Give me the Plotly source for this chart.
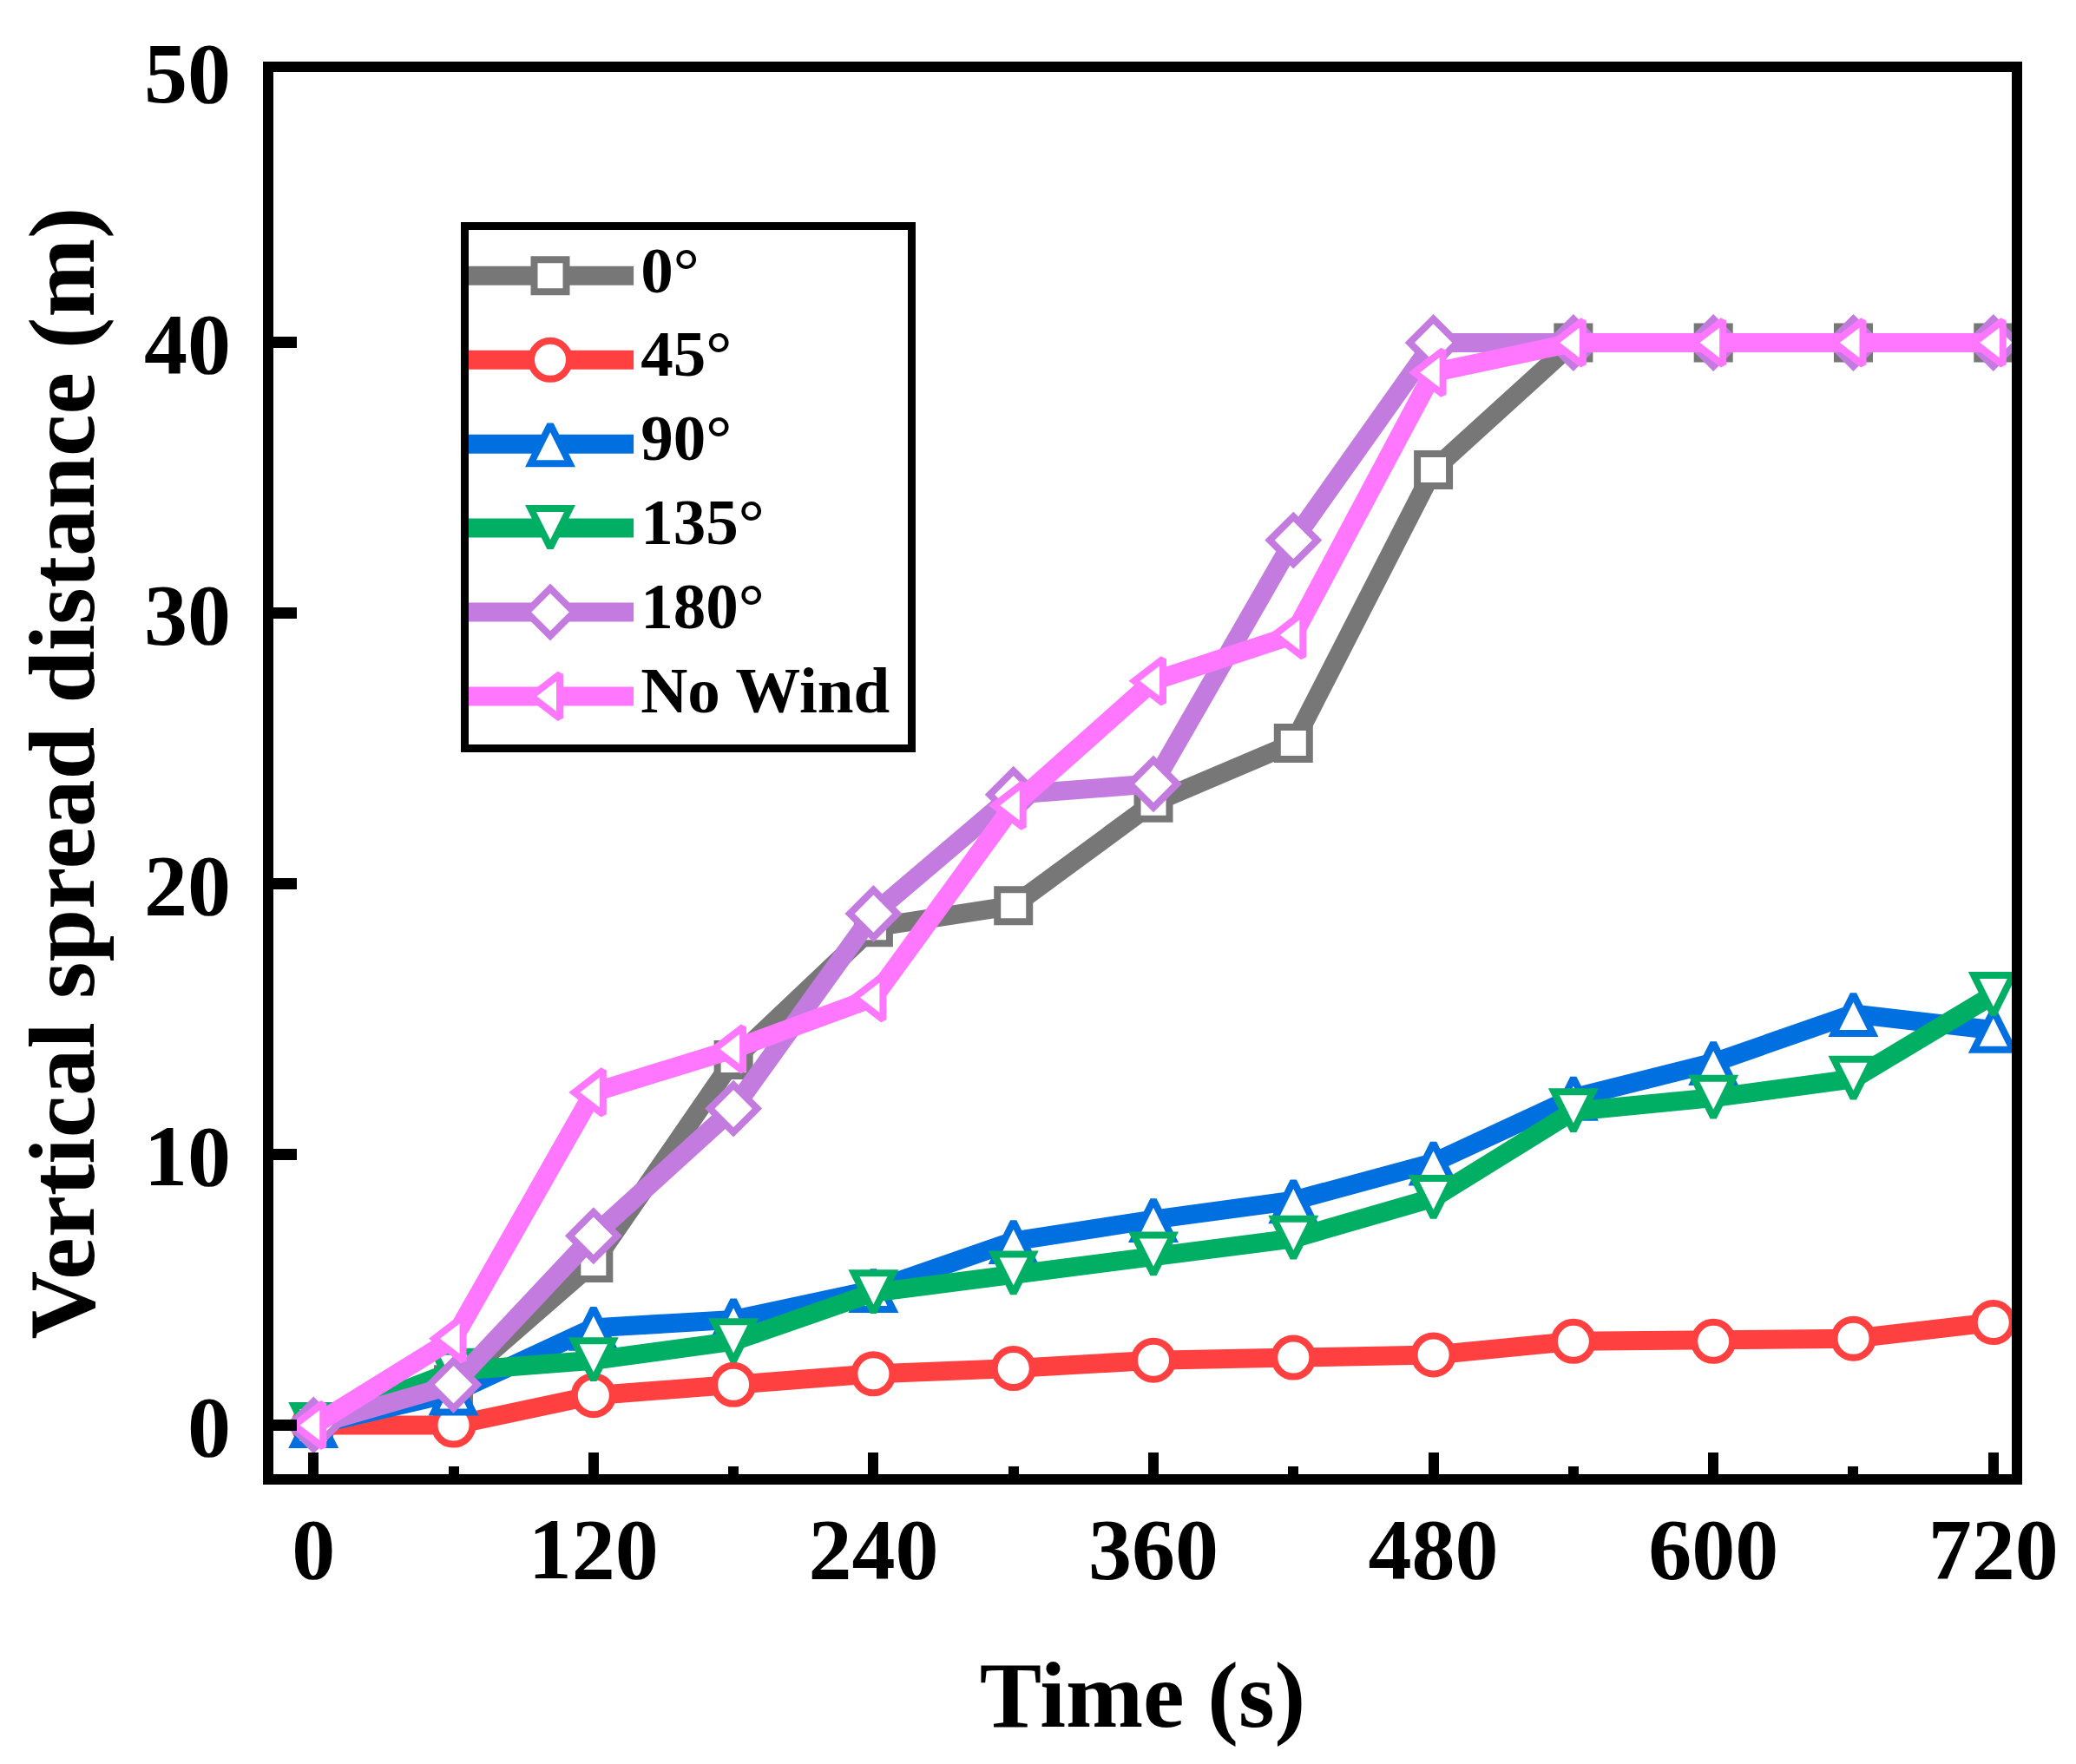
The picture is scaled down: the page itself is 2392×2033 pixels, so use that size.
import plotly.graph_objects as go

# ---------------- data ----------------
time_s = [0, 60, 120, 180, 240, 300, 360, 420, 480, 540, 600, 660, 720]
series_names = ["0°", "45°", "90°", "135°", "180°", "No Wind"]
d_0 = [0, 1.5, 6.0, 13.5, 18.4, 19.2, 23.0, 25.2, 35.3, 40, 40, 40, 40]
d_45 = [0, 0, 1.1, 1.5, 1.9, 2.1, 2.4, 2.5, 2.6, 3.1, 3.1, 3.2, 3.8]
d_90 = [0, 1.2, 3.6, 3.9, 5.0, 6.8, 7.6, 8.3, 9.7, 12.1, 13.4, 15.2, 14.6]
d_135 = [0, 2.0, 2.4, 3.1, 4.9, 5.6, 6.3, 6.9, 8.4, 11.6, 12.1, 12.8, 15.9]
d_180 = [0, 1.5, 7.0, 11.7, 18.9, 23.3, 23.7, 32.7, 40.0, 40, 40, 40, 40]
d_nowind = [0, 3.2, 12.3, 13.9, 15.8, 22.9, 27.5, 29.2, 38.9, 40, 40, 40, 40]
x_tickvals = [0, 120, 240, 360, 480, 600, 720]
y_tickvals = [0, 10, 20, 30, 40, 50]

# ---------------- styles ----------------
series_values = [d_0, d_45, d_90, d_135, d_180, d_nowind]
colors = ["#777777", "#FF4040", "#0070E0", "#00AE64", "#C47BE0", "#FF77FF"]
# up / down triangles: isosceles "arrow" symbol re-centred with standoff
symbols = ["square", "circle", "arrow-down", "arrow-down", "diamond", "triangle-left"]
angles = [0, 0, 180, 0, 0, 0]
centre_shift = [False, False, True, True, False, False]
msizes = [37, 44, 45, 45, 42, 44]
FONT = "Liberation Serif, Times New Roman, serif"
LINE_W = 22
MLINE_W = 8


def marker_style(i):
    m = dict(symbol=symbols[i], size=msizes[i], color="white", angle=angles[i],
             line=dict(color=colors[i], width=MLINE_W))
    if centre_shift[i]:
        m["standoff"] = msizes[i] / 2
    return m


fig = go.Figure()

for i, (name, vals) in enumerate(zip(series_names, series_values)):
    fig.add_trace(go.Scatter(
        x=time_s, y=vals, name=name, mode="lines+markers",
        line=dict(color=colors[i], width=LINE_W, backoff=0),
        marker=marker_style(i),
        xaxis="x", yaxis="y", showlegend=False, cliponaxis=False,
    ))

# ---------------- custom legend in an inset axes ----------------
LEG_LINE_X = [0.0, 0.376]
LEG_MARK_X = 0.186
LEG_TEXT_X = 0.392
for i, name in enumerate(series_names):
    fig.add_trace(go.Scatter(
        x=LEG_LINE_X, y=[i, i], mode="lines",
        line=dict(color=colors[i], width=LINE_W),
        xaxis="x2", yaxis="y2", showlegend=False, hoverinfo="skip",
    ))
    fig.add_trace(go.Scatter(
        x=[LEG_MARK_X], y=[i], mode="markers",
        marker=marker_style(i),
        xaxis="x2", yaxis="y2", showlegend=False, hoverinfo="skip",
    ))
fig.add_trace(go.Scatter(
    x=[LEG_TEXT_X] * len(series_names), y=list(range(len(series_names))),
    mode="text", text=series_names, textposition="middle right",
    textfont=dict(family=FONT, size=75, color="black", weight="bold"),
    xaxis="x2", yaxis="y2", showlegend=False, hoverinfo="skip", cliponaxis=False,
))

axis_common = dict(showgrid=False, zeroline=False, showline=True, linecolor="black",
                   mirror=True)

# page body has an 8px default margin: figure is sized so it fits the window
fig.update_layout(
    width=2376, height=2017,
    margin=dict(l=307, r=61, t=75, b=326),
    paper_bgcolor="white", plot_bgcolor="white",
    showlegend=False,
    xaxis=dict(
        **axis_common, linewidth=12,
        range=[-17.2, 727.9], tickvals=x_tickvals,
        ticks="inside", ticklen=25, tickwidth=12, tickcolor="black",
        minor=dict(ticks="inside", ticklen=9, tickwidth=12, tickcolor="black",
                   dtick=60, tick0=0, showgrid=False),
        tickfont=dict(family=FONT, size=100, color="black", weight="bold"),
        ticklabelstandoff=-12,
        title=dict(text="Time (s)", standoff=80,
                   font=dict(family=FONT, size=107, color="black", weight="bold")),
        domain=[0, 1],
    ),
    yaxis=dict(
        **axis_common, linewidth=12,
        range=[-1.81, 50.001], tickvals=y_tickvals,
        ticks="inside", ticklen=27, tickwidth=13, tickcolor="black",
        tickfont=dict(family=FONT, size=100, color="black", weight="bold"),
        ticklabelstandoff=17,
        title=dict(text="Vertical spread distance (m)", standoff=26,
                   font=dict(family=FONT, size=109, color="black", weight="bold")),
        domain=[0, 1],
    ),
    xaxis2=dict(
        **axis_common, linewidth=9, domain=[0.1123, 0.3648], anchor="y2",
        range=[0, 1], showticklabels=False, ticks="", fixedrange=True,
    ),
    yaxis2=dict(
        **axis_common, linewidth=9, domain=[0.5205, 0.8873], anchor="x2",
        range=[5.572, -0.544], showticklabels=False, ticks="", fixedrange=True,
    ),
)

fig.write_html("out.html")
